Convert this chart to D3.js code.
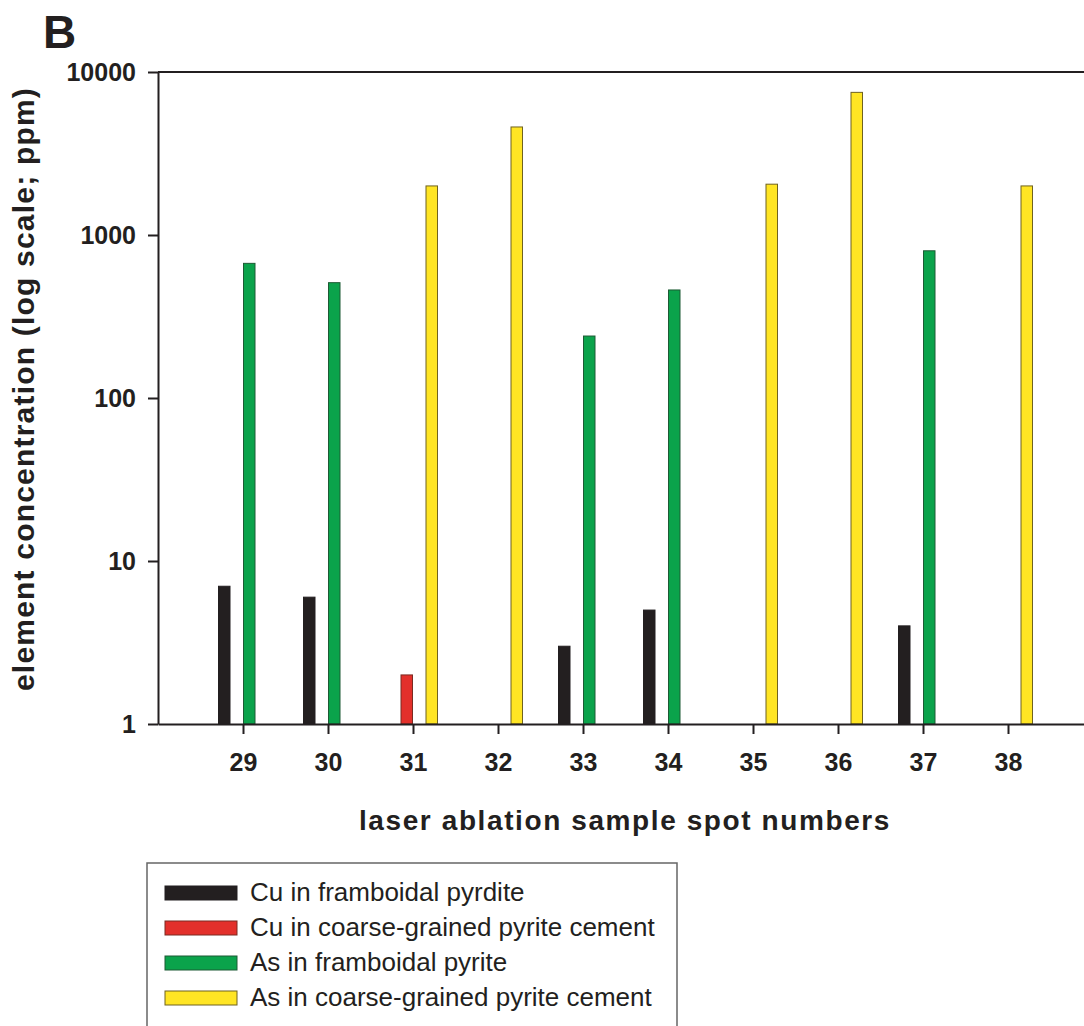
<!DOCTYPE html>
<html>
<head>
<meta charset="utf-8">
<script src="https://cdn.jsdelivr.net/npm/d3@7"></script>
<style>
  body { margin: 0; background: #fff; }
  svg { display: block; }
</style>
</head>
<body>
<svg id="chart" width="1084" height="1026"></svg>
<script>
// spot numbers on the x axis
const spots = [29, 30, 31, 32, 33, 34, 35, 36, 37, 38];

// concentrations in ppm (null = not measured / not shown)
const cuFramboidal = [7, 6, null, null, 3, 5, null, null, 4, null];
const cuCement     = [null, null, 2, null, null, null, null, null, null, null];
const asFramboidal = [670, 510, null, null, 240, 460, null, null, 800, null];
const asCement     = [null, null, 2000, 4600, null, null, 2050, 7500, null, 2000];

const seriesNames = [
  "Cu in framboidal pyrdite",
  "Cu in coarse-grained pyrite cement",
  "As in framboidal pyrite",
  "As in coarse-grained pyrite cement"
];
const seriesFill   = ["#231f20", "#e3302b", "#0ba34b", "#ffe524"];
const seriesStroke = ["#231f20", "#7a2a22", "#1d5a34", "#6f6220"];
const yTicks = [1, 10, 100, 1000, 10000];

const seriesValues = [cuFramboidal, cuCement, asFramboidal, asCement];

const svg = d3.select("#chart");
const ink = "#231f20";
const font = "'Liberation Sans', Arial, sans-serif";

const x = d3.scaleLinear().domain([28, 39]).range([158, 1093]);
const y = d3.scaleLog().domain([1, 10000]).range([724, 72]);
const slot = d3.scaleBand().domain(seriesNames).range([-25, 25]);

// flatten into bar records
let bars = [];
seriesValues.forEach((vals, si) => {
  vals.forEach((v, i) => {
    if (v != null) bars.push({ spot: spots[i], value: v, s: si });
  });
});

svg.append("g")
  .selectAll("rect")
  .data(bars)
  .join("rect")
    .attr("x", d => x(d.spot) + slot(seriesNames[d.s]) + 0.5)
    .attr("y", d => y(d.value))
    .attr("width", slot.bandwidth() - 1)
    .attr("height", d => y(1) - y(d.value))
    .attr("fill", d => seriesFill[d.s])
    .attr("stroke", d => seriesStroke[d.s])
    .attr("stroke-width", 1);

// top frame line
svg.append("line")
  .attr("x1", x(28)).attr("x2", 1084)
  .attr("y1", y(10000)).attr("y2", y(10000))
  .attr("stroke", ink).attr("stroke-width", 2);

// x axis
const xAxis = svg.append("g")
  .attr("transform", `translate(0,${y(1)})`)
  .call(d3.axisBottom(x).tickValues(spots).tickSize(10).tickSizeOuter(0).tickPadding(19));
xAxis.select(".domain").attr("stroke", ink).attr("stroke-width", 2);
xAxis.selectAll(".tick line").attr("stroke", ink).attr("stroke-width", 2);
xAxis.selectAll(".tick text")
  .attr("fill", ink)
  .style("font-family", font)
  .style("font-weight", "bold")
  .style("font-size", "25px");

// y axis
const yAxis = svg.append("g")
  .attr("transform", `translate(${x(28)},0)`)
  .call(d3.axisLeft(y).tickValues(yTicks).tickFormat(d3.format("d")).tickSize(10).tickSizeOuter(0).tickPadding(12));
yAxis.select(".domain").attr("stroke", ink).attr("stroke-width", 2);
yAxis.selectAll(".tick line").attr("stroke", ink).attr("stroke-width", 2);
yAxis.selectAll(".tick text")
  .attr("fill", ink)
  .style("font-family", font)
  .style("font-weight", "bold")
  .style("font-size", "25px");

// axis titles
svg.append("text")
  .attr("x", 625).attr("y", 830)
  .attr("text-anchor", "middle")
  .attr("fill", ink)
  .style("font-family", font)
  .style("font-weight", "bold")
  .style("font-size", "28px")
  .style("letter-spacing", "1.6px")
  .text("laser ablation sample spot numbers");

svg.append("text")
  .attr("transform", "translate(34,389) rotate(-90)")
  .attr("text-anchor", "middle")
  .attr("fill", ink)
  .style("font-family", font)
  .style("font-weight", "bold")
  .style("font-size", "30px")
  .style("letter-spacing", "1.2px")
  .text("element concentration (log scale; ppm)");

// panel letter
svg.append("text")
  .attr("x", 43).attr("y", 48)
  .attr("fill", ink)
  .style("font-family", font)
  .style("font-weight", "bold")
  .style("font-size", "46px")
  .text("B");

// legend
const legend = svg.append("g");
legend.append("path")
  .attr("d", "M147,1030 V863 H677 V1030")
  .attr("fill", "none")
  .attr("stroke", "#666")
  .attr("stroke-width", 1.5);

const rowY = d3.scalePoint().domain(seriesNames).range([893, 998]);
const rows = legend.selectAll("g.row")
  .data(seriesNames)
  .join("g")
    .attr("class", "row")
    .attr("transform", d => `translate(0,${rowY(d)})`);
rows.append("rect")
  .attr("x", 165).attr("y", -7)
  .attr("width", 72).attr("height", 14)
  .attr("fill", (d, i) => seriesFill[i])
  .attr("stroke", (d, i) => seriesStroke[i])
  .attr("stroke-width", 1);
rows.append("text")
  .attr("x", 250).attr("y", 8)
  .attr("fill", ink)
  .style("font-family", font)
  .style("font-size", "26px")
  .text(d => d);
</script>
</body>
</html>
